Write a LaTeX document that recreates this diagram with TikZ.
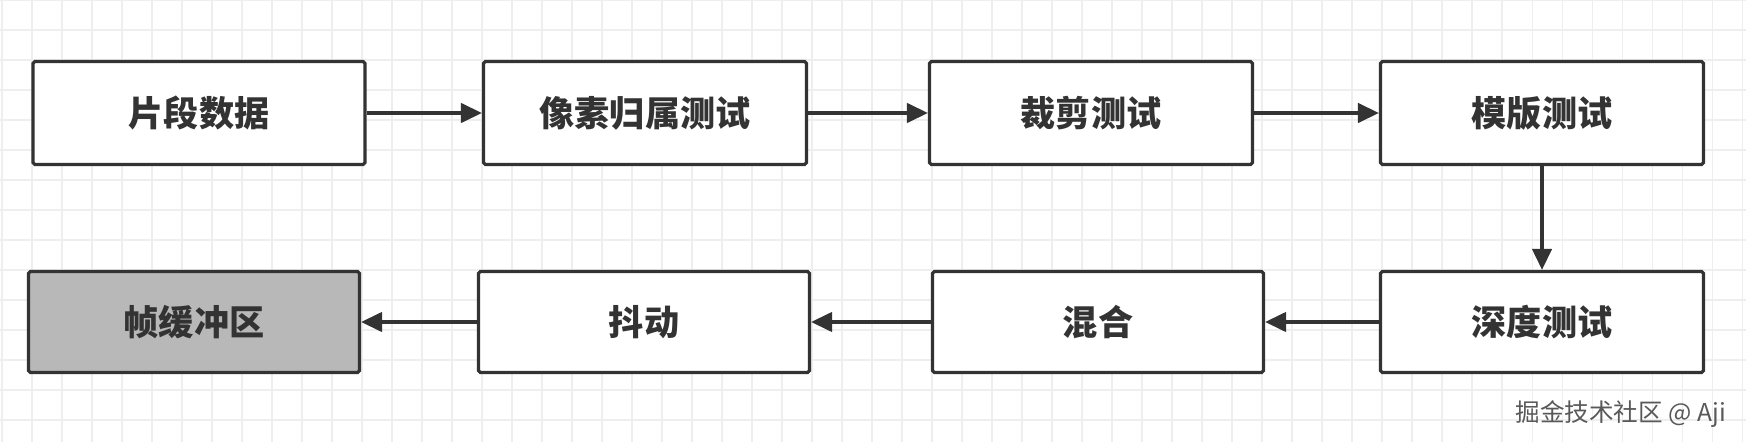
\documentclass[tikz,border=0pt]{standalone}
\usepackage{fontspec}
\setmainfont{Noto Sans CJK SC}
\usepackage{xcolor}
\usetikzlibrary{arrows.meta}
\definecolor{edge}{HTML}{333333}
\definecolor{gridc}{HTML}{EEEEEE}
\definecolor{bufgray}{HTML}{B8B8B8}

\tikzset{
  stage/.style={draw=edge, line width=1.8pt, fill=white, rounded corners=1pt,
    minimum height=2.06cm, inner sep=0pt, font=\fontsize{20}{20}\selectfont\bfseries, text=edge},
  flow/.style={draw=edge, line width=2pt, -{Triangle[length=12pt,width=11pt]}}
}

\begin{document}
\begin{tikzpicture}[x=0.02cm, y=-0.02cm]
\useasboundingbox (0,0) rectangle (1746,442);
\fill[white] (0,0) rectangle (1746,442);
\foreach \gx in {2,32,...,1746} \draw[gridc, line width=0.6pt] (\gx,0) -- (\gx,442);
\foreach \gy in {0,30,...,442} \draw[gridc, line width=0.6pt] (0,\gy) -- (1746,\gy);

\node[stage, minimum width=6.64cm] (frag) at (199,113) {片段数据};
\node[stage, minimum width=6.46cm] (own) at (645,113) {像素归属测试};
\node[stage, minimum width=6.46cm] (scis) at (1091,113) {裁剪测试};
\node[stage, minimum width=6.46cm] (sten) at (1542,113) {模版测试};

\node[stage, minimum width=6.46cm, minimum height=2.02cm] (dep) at (1542,322) {深度测试};
\node[stage, minimum width=6.62cm, minimum height=2.02cm] (blend) at (1098,322) {混合};
\node[stage, minimum width=6.62cm, minimum height=2.02cm] (dith) at (644,322) {抖动};
\node[stage, minimum width=6.62cm, minimum height=2.02cm, fill=bufgray] (fb) at (194,322) {帧缓冲区};

\draw[flow] (frag) -- (own);
\draw[flow] (own) -- (scis);
\draw[flow] (scis) -- (sten);
\draw[flow] (sten) -- (dep);
\draw[flow] (dep) -- (blend);
\draw[flow] (blend) -- (dith);
\draw[flow] (dith) -- (fb);

\node[anchor=east, font=\fontsize{14}{14}\selectfont, text=gray!70!black] (mark) at (1732,414) {掘金技术社区 @ Aji};
\end{tikzpicture}
\end{document}
